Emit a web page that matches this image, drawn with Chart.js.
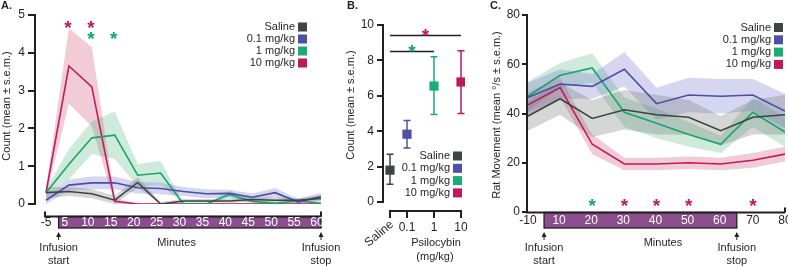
<!DOCTYPE html>
<html>
<head>
<meta charset="utf-8">
<script src="https://cdn.jsdelivr.net/npm/chart.js@4.4.1/dist/chart.umd.min.js"></script>
<style>
  html, body { margin: 0; padding: 0; background: #fff; }
  #fig { position: relative; width: 788px; height: 267px; overflow: hidden; }
  #fig canvas { position: absolute; top: 0; }
</style>
</head>
<body>
<div id="fig">
  <canvas id="chart-a" width="350" height="267" style="left:0"></canvas>
  <canvas id="chart-b" width="160" height="267" style="left:335px"></canvas>
  <canvas id="chart-c" width="300" height="267" style="left:488px"></canvas>
</div>
<script>
const FONT = '"Liberation Sans", Arial, Helvetica, sans-serif'
const TEXT = '#231f20'
const AXIS = '#231f20'
const BOX_FILL = '#8a4d8e'

const GROUPS = ['Saline', '0.1 mg/kg', '1 mg/kg', '10 mg/kg']
const LINE_COLORS = ['#3b453f', '#4a4ea6', '#16a570', '#c2185f']
const BAND_COLORS = ['rgba(105,110,108,0.28)', 'rgba(104,104,200,0.27)', 'rgba(56,168,106,0.24)', 'rgba(204,66,102,0.27)']
const KEY_COLORS = ['#3d4742', '#4c50a8', '#18ad76', '#c0185e']

// A. counts per 5-min bin
const timeLabelsA = ['-5', '5', '10', '15', '20', '25', '30', '35', '40', '45', '50', '55', '60']
const salineA    = [0.3, 0.33, 0.27, 0.1, 0.57, 0, 0.08, 0.08, 0.08, 0.12, 0.1, 0.1, 0.15]
const salineSemA = [0.15, 0.12, 0.12, 0.12, 0.14, 0.05, 0.05, 0.05, 0.05, 0.07, 0.07, 0.06, 0.08]
const lowA       = [0.1, 0.5, 0.56, 0.56, 0.43, 0.41, 0.33, 0.27, 0.28, 0.18, 0.3, 0.05, 0.2]
const lowSemA    = [0.1, 0.15, 0.17, 0.17, 0.15, 0.15, 0.12, 0.12, 0.1, 0.1, 0.12, 0.08, 0.1]
const midA       = [0.3, 1.05, 1.75, 1.82, 0.76, 0.82, 0, 0, 0.25, 0.07, 0.02, 0.08, 0.02]
const midSemA    = [0.1, 0.4, 0.43, 0.63, 0.3, 0.32, 0.02, 0.02, 0.1, 0.06, 0.03, 0.05, 0.03]
const highA      = [0.3, 3.65, 3.1, 0.07, 0, 0, 0, 0, 0, 0, 0, 0, 0]
const highSemA   = [0.12, 1.0, 1.05, 0.08, 0.01, 0.01, 0.01, 0.01, 0.01, 0.01, 0.01, 0.01, 0.01]
const starsA = [[1, 3, 0], [2, 3, 0], [2, 2, 1], [3, 2, 1]]   // [bin, group, row]

// B. total counts by dose
const doseLabels = ['Saline', '0.1', '1', '10']
const doses      = [0, 0.1, 1, 10]
const countMean  = [1.8, 3.83, 6.55, 6.78]
const countLow   = [1.0, 3.05, 4.95, 5.0]
const countHigh  = [2.7, 4.6, 8.2, 8.55]
const sigBarsB   = [[3, 9.4], [2, 8.5]]   // [dose index vs saline, height]

// C. rat movement per 10-min bin
const timeLabelsC = ['-10', '10', '20', '30', '40', '50', '60', '70', '80']
const salineC    = [39, 46, 38, 41.5, 39.5, 38.5, 33, 38.5, 39.5]
const salineSemC = [6, 6.5, 7.5, 8, 8, 7, 6, 7, 8]
const lowC       = [46.5, 52, 51, 58, 44, 47.5, 47, 47.5, 41]
const lowSemC    = [6, 6, 5, 7, 6.5, 7, 7, 6.5, 7]
const midC       = [47, 55.5, 58.5, 40.5, 36, 31.5, 27.5, 40.5, 32.5]
const midSemC    = [6, 5, 6, 6, 6, 5, 3.5, 6, 6]
const highC      = [43.5, 50.5, 27.5, 19.5, 19.5, 20, 19.5, 21, 23.5]
const highSemC   = [5, 4, 4, 2.5, 2.5, 2.5, 2.5, 3, 3]
const starsC = [[2, 2], [3, 3], [4, 3], [5, 3], [7, 3]]   // [bin, group]

const SALINE_POS = -1.63   // where saline sits on the log-dose axis

function text(ctx, str, x, y, o = {}) {
  ctx.save()
  ctx.translate(x, y)
  if (o.rotate) ctx.rotate(o.rotate)
  ctx.font = `${o.weight || 'normal'} ${o.size || 11}px ${FONT}`
  ctx.fillStyle = o.color || TEXT
  ctx.textAlign = o.align || 'center'
  ctx.textBaseline = o.base || 'middle'
  ctx.fillText(str, 0, 0)
  ctx.restore()
}

function star(ctx, x, y, color) {
  text(ctx, '*', x, y + 11, { size: 19, weight: 'bold', color, base: 'alphabetic' })
}

function arrowUp(ctx, x, top, bottom) {
  ctx.save()
  ctx.strokeStyle = TEXT
  ctx.fillStyle = TEXT
  ctx.lineWidth = 1
  ctx.beginPath(); ctx.moveTo(x, bottom); ctx.lineTo(x, top + 3); ctx.stroke()
  ctx.beginPath(); ctx.moveTo(x, top); ctx.lineTo(x - 2.5, top + 5); ctx.lineTo(x + 2.5, top + 5); ctx.closePath(); ctx.fill()
  ctx.restore()
}

function drawKey(ctx, right, top, step) {
  GROUPS.forEach((g, k) => {
    const y = top + k * step
    ctx.fillStyle = KEY_COLORS[k]
    ctx.fillRect(right - 9, y - 4.5, 9, 9)
    text(ctx, g, right - 12, y, { align: 'right' })
  })
}

function timeAxis(chart, cfg) {
  const { ctx } = chart
  const x = chart.scales.x
  const right = x.getPixelForValue(cfg.labels.length - 1)
  const b0 = x.getPixelForValue(cfg.boxFrom), b1 = x.getPixelForValue(cfg.boxTo)
  ctx.save()
  ctx.fillStyle = BOX_FILL
  ctx.fillRect(b0, cfg.lineY, b1 - b0, cfg.boxBottom - cfg.lineY)
  ctx.strokeStyle = AXIS
  ctx.lineWidth = 1.3
  ctx.strokeRect(b0, cfg.lineY, b1 - b0, cfg.boxBottom - cfg.lineY)
  ctx.lineWidth = 2
  ctx.beginPath()
  ctx.moveTo(cfg.left, cfg.lineY); ctx.lineTo(right, cfg.lineY)
  ctx.moveTo(right, cfg.lineY); ctx.lineTo(right, cfg.lineY - 5)
  if (cfg.tickLeft) { ctx.moveTo(cfg.left, cfg.lineY + 1); ctx.lineTo(cfg.left, cfg.lineY - 5) }
  ctx.stroke()
  ctx.restore()
  cfg.labels.forEach((lab, i) => {
    const inside = i >= cfg.boxFrom && i <= cfg.boxTo
    text(ctx, lab, x.getPixelForValue(i) + (inside ? cfg.shift : 0), cfg.labelY, { size: 12, color: inside ? '#fff' : TEXT })
  })
  ;[[cfg.boxFrom, 'start'], [cfg.boxTo, 'stop']].forEach(([idx, word]) => {
    const px = x.getPixelForValue(idx)
    arrowUp(ctx, px, cfg.boxBottom + 4, cfg.boxBottom + 12)
    text(ctx, 'Infusion', px, cfg.boxBottom + 20)
    text(ctx, word, px, cfg.boxBottom + 33)
  })
  text(ctx, 'Minutes', x.getPixelForValue(cfg.minutesAt), cfg.boxBottom + 15)
}

function bandDatasets(series) {
  const sets = []
  series.forEach(([means, sems], g) => {
    sets.push({
      data: means.map((m, i) => ({ x: i, y: m + sems[i] })),
      borderWidth: 0, pointRadius: 0, fill: false, order: 1,
    })
    sets.push({
      data: means.map((m, i) => ({ x: i, y: Math.max(0, m - sems[i]) })),
      borderWidth: 0, pointRadius: 0, fill: '-1', backgroundColor: BAND_COLORS[g], order: 1,
    })
  })
  series.forEach(([means], g) => {
    sets.push({
      data: means.map((m, i) => ({ x: i, y: m })),
      borderColor: LINE_COLORS[g], borderWidth: 1.6, pointRadius: 0, fill: false, order: 0,
    })
  })
  return sets
}

function yAxis(min, max, step, width, tickLength, pad) {
  return {
    min, max,
    afterFit: s => { s.width = width },
    ticks: { stepSize: step, color: TEXT, padding: pad, font: { size: 12, family: FONT } },
    grid: { drawOnChartArea: false, drawTicks: true, tickLength, color: AXIS, lineWidth: 2 },
    border: { display: true, color: AXIS, width: 2 },
  }
}

const common = {
  responsive: false,
  animation: false,
  events: [],
  plugins: { legend: { display: false }, tooltip: { enabled: false } },
}

// ---- A ----
new Chart(document.getElementById('chart-a'), {
  type: 'line',
  data: { datasets: bandDatasets([[salineA, salineSemA], [lowA, lowSemA], [midA, midSemA], [highA, highSemA]]) },
  options: {
    ...common,
    layout: { padding: { left: 0, right: 29, top: 15, bottom: 63 } },
    scales: {
      x: { type: 'linear', min: -0.48, max: 12, display: false },
      y: yAxis(0, 5, 1, 35, 7, 3),
    },
  },
  plugins: [{
    id: 'panelA',
    afterDraw(chart) {
      const { ctx, scales: { x, y } } = chart
      timeAxis(chart, {
        labels: timeLabelsA, left: x.getPixelForValue(0) - 1, tickLeft: true,
        lineY: 216.5, boxBottom: 228, labelY: 222.5, boxFrom: 0.55, boxTo: 12, shift: -4, minutesAt: 5.7,
      })
      const rows = [4.8, 4.49]
      starsA.forEach(([i, g, r]) => star(ctx, x.getPixelForValue(i) - 1, y.getPixelForValue(rows[r]), LINE_COLORS[g]))
      drawKey(ctx, 307, 27, 12)
      text(ctx, 'Count (mean ± s.e.m.)', 7, 106, { rotate: -Math.PI / 2 })
      text(ctx, 'A.', 1, 6, { align: 'left', weight: 'bold' })
    },
  }],
})

// ---- B ----
const dosePos = d => (d === 0 ? SALINE_POS : Math.log10(d))
new Chart(document.getElementById('chart-b'), {
  type: 'scatter',
  data: {
    datasets: [{
      data: doses.map((d, i) => ({ x: dosePos(d), y: countMean[i] })),
      pointStyle: 'rect', pointRadius: 6.5, borderWidth: 0,
      backgroundColor: KEY_COLORS, pointBackgroundColor: KEY_COLORS,
    }],
  },
  options: {
    ...common,
    layout: { padding: { left: 0, right: 30, top: 25, bottom: 65 } },
    scales: {
      x: { type: 'linear', min: -1.889, max: 1.148, display: false },
      y: yAxis(0, 10, 2, 48, 6, 3),
    },
  },
  plugins: [{
    id: 'panelB',
    beforeDatasetsDraw(chart) {
      const { ctx, scales: { x, y } } = chart
      ctx.save()
      ctx.lineWidth = 1.5
      doses.forEach((d, i) => {
        const px = x.getPixelForValue(dosePos(d))
        const y0 = y.getPixelForValue(countLow[i]), y1 = y.getPixelForValue(countHigh[i])
        ctx.strokeStyle = KEY_COLORS[i]
        ctx.beginPath()
        ctx.moveTo(px, y0); ctx.lineTo(px, y1)
        ctx.moveTo(px - 3.5, y0); ctx.lineTo(px + 3.5, y0)
        ctx.moveTo(px - 3.5, y1); ctx.lineTo(px + 3.5, y1)
        ctx.stroke()
      })
      ctx.restore()
    },
    afterDraw(chart) {
      const { ctx, chartArea, scales: { x, y } } = chart
      const xs = doses.map(d => x.getPixelForValue(dosePos(d)))
      const ay = chartArea.bottom + 9
      ctx.save()
      ctx.strokeStyle = AXIS
      ctx.lineWidth = 2
      ctx.beginPath()
      ctx.moveTo(xs[0], ay); ctx.lineTo(xs[3], ay)
      xs.forEach(px => { ctx.moveTo(px, ay - 1); ctx.lineTo(px, ay + 7) })
      ctx.stroke()
      ctx.lineWidth = 1.5
      sigBarsB.forEach(([j, h]) => {
        const py = y.getPixelForValue(h)
        ctx.beginPath(); ctx.moveTo(xs[0], py); ctx.lineTo(xs[j], py); ctx.stroke()
        star(ctx, (xs[0] + xs[j]) / 2, py - 4.5, LINE_COLORS[j])
      })
      ctx.restore()
      doseLabels.forEach((lab, i) => {
        if (i === 0) text(ctx, lab, xs[0] + 2, ay + 12, { align: 'right', rotate: -0.7, size: 12 })
        else text(ctx, lab, xs[i], ay + 17, { size: 12 })
      })
      text(ctx, 'Psilocybin', 101, 243)
      text(ctx, '(mg/kg)', 100, 257)
      drawKey(ctx, 127, 156, 12.3)
      text(ctx, 'Count (mean ± s.e.m.)', 16, 105, { rotate: -Math.PI / 2 })
      text(ctx, 'B.', 12, 6, { align: 'left', weight: 'bold' })
    },
  }],
})

// ---- C ----
new Chart(document.getElementById('chart-c'), {
  type: 'line',
  data: { datasets: bandDatasets([[salineC, salineSemC], [lowC, lowSemC], [midC, midSemC], [highC, highSemC]]) },
  options: {
    ...common,
    layout: { padding: { left: 0, right: 3, top: 15, bottom: 55 } },
    scales: {
      x: { type: 'linear', min: -0.031, max: 8, display: false },
      y: yAxis(0, 80, 20, 39, 5, 2),
    },
  },
  plugins: [{
    id: 'panelC',
    afterDraw(chart) {
      const { ctx, chartArea, scales: { x, y } } = chart
      timeAxis(chart, {
        labels: timeLabelsC, left: chartArea.left - 1, tickLeft: false,
        lineY: chartArea.bottom + 0.5, boxBottom: 228, labelY: 221, boxFrom: 0.5, boxTo: 6.5, shift: -1, minutesAt: 4.2,
      })
      starsC.forEach(([i, g]) => star(ctx, x.getPixelForValue(i), y.getPixelForValue(4.5), LINE_COLORS[g]))
      drawKey(ctx, 295, 27.5, 12.3)
      text(ctx, 'Rat Movement (mean °/s ± s.e.m.)', 9, 115, { rotate: -Math.PI / 2 })
      text(ctx, 'C.', 2, 6, { align: 'left', weight: 'bold' })
    },
  }],
})
</script>
</body>
</html>
